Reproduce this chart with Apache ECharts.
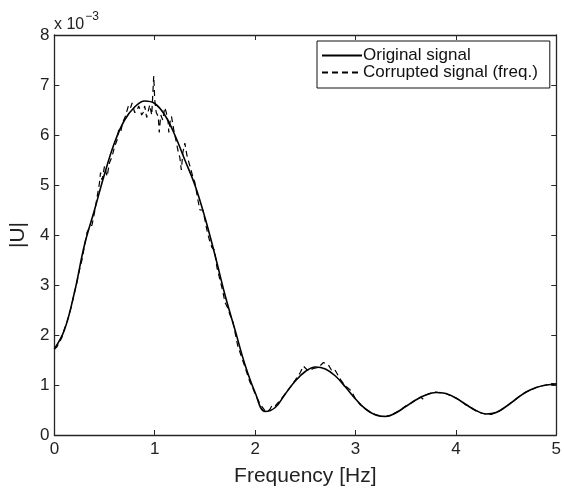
<!DOCTYPE html>
<html>
<head>
<meta charset="utf-8">
<script src="https://cdn.jsdelivr.net/npm/echarts@6/dist/echarts.min.js"></script>
<style>html,body{margin:0;padding:0;background:#fff}#c{width:564px;height:492px}</style>
</head>
<body>
<div id="c"></div>
<script>
// Frequency axis (Hz) and |U| values in units of 1e-3
const freqOrig = [0,0.1,0.2,0.3,0.4,0.5,0.6,0.7,0.8,0.9,1.0,1.1,1.2,1.3,1.4,1.5,1.6,1.7,1.8,1.9,2.0,2.1,2.2,2.3,2.4,2.5,2.6,2.7,2.8,2.9,3.0,3.1,3.2,3.3,3.4,3.5,3.6,3.7,3.8,3.9,4.0,4.1,4.2,4.3,4.4,4.5,4.6,4.7,4.8,4.9,5.0];
const ampOrig = [1.72,2.1,2.85,3.8,4.5,5.22,5.85,6.3,6.56,6.68,6.63,6.4,6.0,5.5,5.0,4.35,3.6,2.8,2.1,1.4,0.85,0.47,0.55,0.82,1.08,1.27,1.36,1.32,1.18,0.96,0.72,0.52,0.4,0.37,0.44,0.57,0.7,0.8,0.85,0.83,0.74,0.61,0.49,0.42,0.45,0.57,0.72,0.86,0.95,1.0,1.02];

const freqCorr = [0,0.025,0.05,0.075,0.10,0.125,0.15,0.175,0.20,0.225,0.25,0.275,0.30,0.325,0.35,0.375,0.40,0.425,0.45,0.46,0.475,0.50,0.525,0.55,0.575,0.60,0.625,0.64,0.66,0.68,0.707,0.725,0.74,0.76,0.775,0.80,0.82,0.84,0.855,0.87,0.885,0.90,0.92,0.95,0.97,0.99,1.00,1.015,1.035,1.045,1.06,1.08,1.10,1.115,1.134,1.14,1.155,1.167,1.19,1.216,1.23,1.25,1.265,1.28,1.30,1.32,1.35,1.375,1.40,1.43,1.45,1.48,1.50,1.525,1.545,1.57,1.595,1.62,1.65,1.675,1.70,1.725,1.75,1.775,1.80,1.825,1.85,1.875,1.90,1.925,1.95,1.975,2.00,2.05,2.10,2.12,2.15,2.17,2.20,2.25,2.30,2.35,2.40,2.45,2.48,2.53,2.58,2.63,2.68,2.73,2.76,2.79,2.83,2.86,2.90,2.96,3.00,3.05,3.10,3.15,3.20,3.25,3.30,3.35,3.40,3.45,3.50,3.55,3.60,3.65,3.67,3.70,3.75,3.80,3.85,3.90,3.95,4.00,4.05,4.10,4.15,4.20,4.25,4.30,4.35,4.40,4.45,4.50,4.55,4.60,4.65,4.70,4.75,4.80,4.85,4.90,4.95,5.00];
const ampCorr = [1.72,1.76,1.85,1.95,2.12,2.25,2.42,2.62,2.85,3.05,3.3,3.5,3.78,4.05,4.15,4.2,4.45,4.75,5.05,5.25,5.1,5.38,5.17,5.45,5.57,5.77,5.9,6.1,6.05,6.25,6.37,6.35,6.6,6.55,6.64,6.45,6.47,6.58,6.5,6.4,6.45,6.58,6.35,6.6,6.4,7.18,6.7,6.45,6.37,6.05,6.4,6.3,6.55,6.45,6.25,6.05,6.3,6.37,6.1,5.85,5.7,5.55,5.3,5.65,5.84,5.6,5.38,5.2,5.05,4.7,4.5,4.5,4.3,4.05,3.9,3.75,3.7,3.35,3.1,2.9,2.65,2.55,2.4,2.3,2.05,1.8,1.65,1.5,1.35,1.2,1.05,0.95,0.82,0.62,0.48,0.46,0.52,0.6,0.58,0.7,0.82,0.96,1.1,1.25,1.38,1.28,1.33,1.35,1.45,1.4,1.3,1.32,1.18,1.08,0.98,0.88,0.72,0.6,0.52,0.45,0.41,0.38,0.37,0.4,0.45,0.5,0.58,0.63,0.7,0.76,0.72,0.8,0.84,0.86,0.84,0.83,0.78,0.74,0.68,0.6,0.55,0.48,0.44,0.42,0.41,0.45,0.5,0.57,0.65,0.72,0.8,0.86,0.9,0.95,0.98,1.0,1.03,1.02];

const xTicks = ['0','1','2','3','4','5'];
const yTicks = ['0','1','2','3','4','5','6','7','8'];

const FONT = '"Liberation Sans", Arial, sans-serif';
const AX = '#262626';

const chart = echarts.init(document.getElementById('c'), null, {renderer: 'canvas'});
const axisCommon = {
  axisLine: {show: true, onZero: false, lineStyle: {color: AX, width: 1.3}},
  axisTick: {show: true, inside: true, length: 5, lineStyle: {color: AX, width: 1}},
  splitLine: {show: false}
};
chart.setOption({
  backgroundColor: '#fff',
  animation: false,
  title: {
    text: '{a|x 10}{b|−3}',
    left: 49, top: 6,
    textStyle: {
      fontWeight: 'normal',
      rich: {
        a: {fontFamily: FONT, fontSize: 16, fontWeight: 'normal', color: '#222', verticalAlign: 'bottom', lineHeight: 22, padding: [6,0,0,0]},
        b: {fontFamily: FONT, fontSize: 12, fontWeight: 'normal', color: '#222', verticalAlign: 'top', lineHeight: 22, padding: [0,0,12,1]}
      }
    }
  },
  grid: {left: 50, right: 7, top: 35, bottom: 56, containLabel: false},
  legend: {
    orient: 'vertical',
    left: 317, top: 41,
    backgroundColor: '#fff',
    borderColor: '#111', borderWidth: 1,
    padding: [6, 12, 7, 4],
    itemGap: 0,
    itemWidth: 40, itemHeight: 18,
    itemStyle: {color: 'rgba(0,0,0,0)', borderWidth: 0, opacity: 0},
    textStyle: {fontFamily: FONT, fontSize: 17, color: '#111', padding: [0,0,0,-4]},
    data: [
      {name: 'Original signal'},
      {name: 'Corrupted signal (freq.)'}
    ]
  },
  xAxis: [
    Object.assign({
      type: 'value', min: 0, max: 5, interval: 1, position: 'bottom',
      name: 'Frequency [Hz]', nameLocation: 'middle', nameGap: 31,
      nameTextStyle: {fontFamily: FONT, fontSize: 21, color: '#222'},
      axisLabel: {fontFamily: FONT, fontSize: 17, color: '#222', margin: 6,
        formatter: v => xTicks[Math.round(v)]}
    }, axisCommon),
    Object.assign({
      type: 'value', min: 0, max: 5, interval: 1, position: 'top',
      axisLabel: {show: false}
    }, axisCommon)
  ],
  yAxis: [
    Object.assign({
      type: 'value', min: 0, max: 8, interval: 1, position: 'left',
      name: '|U|', nameLocation: 'middle', nameGap: 24, nameRotate: 90,
      nameTextStyle: {fontFamily: FONT, fontSize: 21, color: '#222'},
      axisLabel: {fontFamily: FONT, fontSize: 17, color: '#222', margin: 5,
        formatter: v => yTicks[Math.round(v)]}
    }, axisCommon),
    Object.assign({
      type: 'value', min: 0, max: 8, interval: 1, position: 'right',
      axisLabel: {show: false}
    }, axisCommon)
  ],
  series: [
    {
      name: 'Original signal', type: 'line', smooth: 0.4, symbol: 'none',
      xAxisIndex: 0, yAxisIndex: 0,
      lineStyle: {color: '#000', width: 1.6},
      itemStyle: {color: '#000'},
      data: freqOrig.map((f, i) => [f, ampOrig[i]]),
      z: 3
    },
    {
      name: 'Corrupted signal (freq.)', type: 'line', smooth: false, symbol: 'none',
      xAxisIndex: 0, yAxisIndex: 0,
      lineStyle: {color: '#000', width: 1.2, type: [6, 4]},
      itemStyle: {color: '#000'},
      data: freqCorr.map((f, i) => [f, ampCorr[i]]),
      z: 2
    }
  ]
});
</script>
</body>
</html>
